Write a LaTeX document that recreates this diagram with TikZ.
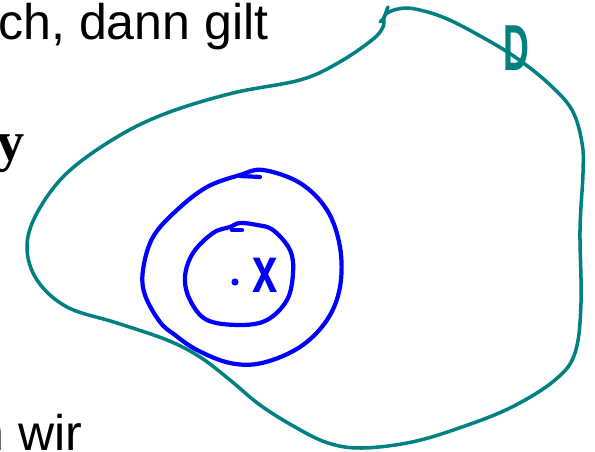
\documentclass[tikz,border=0pt]{standalone}
\usepackage{fontspec}
\setmainfont{Liberation Sans}
\newfontfamily\serifbold{Liberation Serif}[BoldFont={* Bold}]
\usepackage{xcolor}
\usepackage{tikz}
\definecolor{tealink}{RGB}{0,128,128}
\definecolor{blueink}{RGB}{0,0,255}

\begin{document}
\begin{tikzpicture}[x=0.02cm, y=-0.02cm,
    rim/.style={draw=tealink, line width=2pt, line cap=round, line join=round},
    ring/.style={draw=blueink, line width=2.4pt, line cap=round, line join=round},
    txt/.style={inner sep=0pt, font=\fontsize{28.5}{34}\selectfont},
    hand/.style={inner sep=0pt, font=\fontsize{37}{40}\selectfont\bfseries},
  ]
    \useasboundingbox (0,0) rectangle (595,452);

    % cut-off lines of the slide text
    \node[txt, anchor=base west] (top) at (-2,40) {ch, dann gilt};
    \node[inner sep=0pt, anchor=base east,
          font=\fontsize{32}{36}\serifbold\bfseries] (vy) at (25,161) {y};
    \node[txt, anchor=base west] (bot) at (-24,450) {n wir};

    % the region D
    \draw[rim] plot[smooth cycle, tension=0.6] coordinates {
      (385,15) (398,9) (415,9) (445,18) (482,37) (515,57) (548,83)
      (572,110) (582,143) (583,173) (580,230) (581,303) (575,353)
      (555,380) (512,407) (462,427) (412,442) (362,448) (328,443)
      (295,427) (260,405) (230,380) (200,357) (167,340) (117,323)
      (67,307) (37,280) (27,247) (37,213) (67,173) (117,137)
      (167,113) (233,93) (300,80) (338,63) (372,40) (383,27)};
    \draw[rim] (388,7) -- (384,18) -- (380,22);
    \node[hand, text=tealink] (dlab) at (516,48) {\scalebox{0.55}[1]{D}};

    % balls around x
    \draw[ring] plot[smooth cycle, tension=0.6] coordinates {
      (263,170) (300,183) (327,210) (340,247) (340,287) (327,320)
      (300,347) (262,363) (230,363) (197,350) (175,335) (160,322)
      (145,295) (143,270) (153,237) (177,210) (207,187) (240,175)};
    \draw[ring] (240,176) -- (260,177);
    \draw[ring] plot[smooth cycle, tension=0.6] coordinates {
      (240,223) (257,225) (273,230) (290,250) (293,273) (287,300)
      (267,320) (240,325) (207,320) (190,300) (185,277) (193,253)
      (213,233) (230,227)};
    \draw[ring] (232,230) -- (242,230);

    \coordinate (pt) at (235,282);
    \fill[blueink] (pt) circle (3.6);
    \node[hand, text=blueink] (xlab) at (265,275) {\scalebox{0.7}[1]{x}};
  \end{tikzpicture}
\end{document}
